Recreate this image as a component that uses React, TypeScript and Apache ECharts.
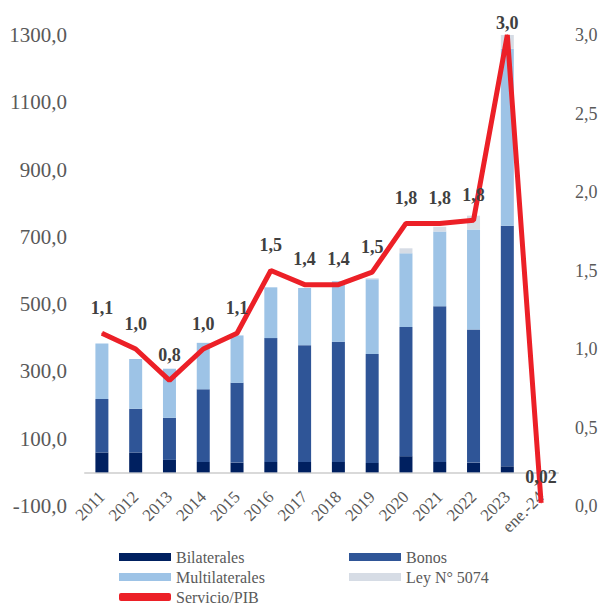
import React, { useEffect, useRef } from "react";
import * as echarts from "echarts";

const categories = ["2011", "2012", "2013", "2014", "2015", "2016", "2017", "2018", "2019", "2020", "2021", "2022", "2023", "ene.-24"];
const bilaterales = [59, 59, 37, 31, 29, 31, 31, 31, 28, 48, 31, 29, 18, 0];
const bonos = [159, 130, 125, 216, 237, 368, 347, 357, 324, 384, 463, 396, 715, 0];
const multilaterales = [165, 148, 146, 138, 141, 151, 170, 180, 222, 219, 222, 297, 526, 0];
const ley5074 = [0, 0, 0, 0, 0, 0, 0, 0, 3, 15, 14, 41, 42, 0];
const servicioPib = [1.1, 1.0, 0.8, 1.0, 1.1, 1.5, 1.41, 1.41, 1.49, 1.8, 1.8, 1.82, 3.0, 0.02];

const FONT = "'Liberation Serif', 'Times New Roman', serif";
const GREY = "#595959";

export default function App() {
  const ref = useRef<HTMLDivElement>(null);
  useEffect(() => {
    if (!ref.current) return;
    const chart = echarts.init(ref.current, null, { renderer: "svg" });
    const barCommon = {
      type: "bar",
      stack: "total",
      barWidth: 13,
      yAxisIndex: 0,
    };
    const legendCommon = {
      orient: "vertical",
      top: 549,
      height: 100,
      padding: 0,
      itemWidth: 52,
      itemHeight: 8,
      itemGap: 4,
      textStyle: { fontFamily: FONT, fontSize: 16, color: GREY },
    };
    chart.setOption({
      animation: false,
      textStyle: { fontFamily: FONT },
      grid: { left: 85, right: 43, top: 35, bottom: 99 },
      legend: [
        {
          ...legendCommon,
          left: 119,
          data: [
            { name: "Bilaterales", icon: "rect" },
            { name: "Multilaterales", icon: "rect" },
            { name: "Servicio/PIB", icon: "roundRect" },
          ],
        },
        {
          ...legendCommon,
          left: 349,
          data: [
            { name: "Bonos", icon: "rect" },
            { name: "Ley N° 5074", icon: "rect" },
          ],
        },
      ],
      xAxis: {
        type: "category",
        data: categories,
        axisLine: { onZero: true, onZeroAxisIndex: 0, lineStyle: { color: "#D9D9D9", width: 2 } },
        axisTick: { show: false },
        axisLabel: {
          rotate: 45,
          interval: 0,
          margin: -12,
          fontFamily: FONT,
          fontSize: 17,
          color: GREY,
        },
      },
      yAxis: [
        {
          type: "value",
          min: -100,
          max: 1300,
          interval: 100,
          axisLine: { show: false },
          axisTick: { show: false },
          splitLine: { show: false },
          axisLabel: {
            margin: 18,
            fontFamily: FONT,
            fontSize: 21,
            color: GREY,
            formatter: (v: number) =>
              Math.abs(Math.round(v)) % 200 === 100 ? v.toFixed(1).replace(".", ",") : "",
          },
        },
        {
          type: "value",
          min: 0,
          max: 3,
          interval: 0.5,
          position: "right",
          axisLine: { show: false },
          axisTick: { show: false },
          splitLine: { show: false },
          axisLabel: {
            margin: 17,
            fontFamily: FONT,
            fontSize: 18,
            color: GREY,
            formatter: (v: number) => v.toFixed(1).replace(".", ","),
          },
        },
      ],
      series: [
        { ...barCommon, name: "Bilaterales", data: bilaterales, itemStyle: { color: "#002060" } },
        { ...barCommon, name: "Bonos", data: bonos, itemStyle: { color: "#2F5597" } },
        { ...barCommon, name: "Multilaterales", data: multilaterales, itemStyle: { color: "#9DC3E6" } },
        { ...barCommon, name: "Ley N° 5074", data: ley5074, itemStyle: { color: "#D6DCE5" } },
        {
          type: "line",
          name: "Servicio/PIB",
          yAxisIndex: 1,
          symbol: "circle",
          symbolSize: 1,
          showSymbol: true,
          z: 5,
          itemStyle: { color: "#EC2027" },
          lineStyle: { color: "#EC2027", width: 5 },
          data: servicioPib.map((v, i) =>
            i === servicioPib.length - 2 ? { value: v, label: { distance: 3 } } : v
          ),
          label: {
            show: true,
            position: "top",
            distance: 16,
            fontFamily: FONT,
            fontSize: 18,
            fontWeight: "bold",
            color: "#404040",
            formatter: (p: any) =>
              p.dataIndex === servicioPib.length - 1
                ? Number(p.value).toFixed(2).replace(".", ",")
                : Number(p.value).toFixed(1).replace(".", ","),
          },
        },
      ],
    });
    return () => chart.dispose();
  }, []);
  return (
    <div
      ref={ref}
      style={{ position: "fixed", left: 0, top: 0, width: 601, height: 605, background: "#fff" }}
    />
  );
}
